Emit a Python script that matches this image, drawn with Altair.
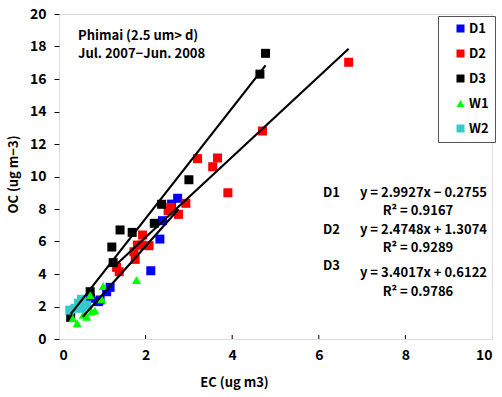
import altair as alt
import pandas as pd

# ---------------- data ----------------
series_names = ["D1", "D2", "D3", "W1", "W2"]
series_colors = ["#0000FF", "#FF0000", "#000000", "#00FF00", "#33CCCC"]
series_shapes = ["square", "square", "square", "triangle-up", "square"]

d1_ec = [0.73, 0.91, 0.95, 1.10, 1.18, 2.12, 2.33, 2.39, 2.60, 2.74]
d1_oc = [2.50, 2.30, 2.40, 2.91, 3.18, 4.20, 6.15, 7.28, 8.30, 8.66]

d2_ec = [1.33, 1.39, 1.76, 1.73, 1.81, 1.91, 2.08, 1.93, 2.52, 2.58, 2.76, 2.93, 3.90, 3.55, 3.20, 3.66, 4.70, 6.69]
d2_oc = [4.41, 4.14, 4.90, 5.37, 5.78, 5.78, 5.74, 6.40, 7.90, 8.10, 7.67, 8.35, 9.00, 10.60, 11.10, 11.14, 12.80, 17.03]

d3_ec = [0.27, 0.72, 1.25, 1.22, 1.41, 1.69, 2.20, 2.37, 3.00, 4.64, 4.77]
d3_oc = [1.33, 2.91, 4.70, 5.66, 6.71, 6.56, 7.12, 8.29, 9.80, 16.30, 17.58]

w1_ec = [0.32, 0.42, 0.56, 0.64, 0.75, 0.83, 0.99, 0.72, 1.02, 1.79]
w1_oc = [1.27, 0.97, 1.48, 1.37, 1.68, 1.74, 2.44, 2.70, 3.26, 3.63]

w2_ec = [0.25, 0.37, 0.45, 0.52, 0.56, 0.64]
w2_oc = [1.78, 1.89, 2.20, 2.44, 1.89, 2.09]

fit_names = ["D1", "D2", "D3"]
fit_slope = [2.9927, 2.4748, 3.4017]
fit_intercept = [-0.2755, 1.3074, 0.6122]
fit_r2 = [0.9167, 0.9289, 0.9786]
fit_x_start = [0.55, 1.33, 0.27]
fit_x_end = [2.76, 6.69, 4.77]

x_ticks = [0, 2, 4, 6, 8, 10]
y_ticks = [0, 2, 4, 6, 8, 10, 12, 14, 16, 18, 20]

title_lines = ["Phimai (2.5 um> d)", "Jul. 2007\u2212Jun. 2008"]

# ---------------- tables ----------------
rows = []
for name, xs, ys in zip(series_names,
                        [d1_ec, d2_ec, d3_ec, w1_ec, w2_ec],
                        [d1_oc, d2_oc, d3_oc, w1_oc, w2_oc]):
    for xv, yv in zip(xs, ys):
        rows.append({"series": name, "EC": xv, "OC": yv})
points = pd.DataFrame(rows)

fit_rows = []
for n, a, b, x0, x1 in zip(fit_names, fit_slope, fit_intercept, fit_x_start, fit_x_end):
    for xv in (x0, x1):
        fit_rows.append({"fit": n, "EC": xv, "OC": a * xv + b})
fits = pd.DataFrame(fit_rows)

def eq_text(a, b):
    sign = "+" if b >= 0 else "\u2212"
    return f"y = {a:.4f}x {sign} {abs(b):.4f}"

FONT = "Noto Sans CJK JP"

# annotation layout (pixel positions inside plot area)
ann_left = pd.DataFrame({
    "text": title_lines + fit_names,
    "px": [19, 19, 264, 264, 264],
    "py": [22, 40, 179, 216, 252],
})
ann_right = pd.DataFrame({
    "text": [eq_text(a, b) for a, b in zip(fit_slope, fit_intercept)],
    "px": [428, 428, 428],
    "py": [179, 216, 259],
})
ann_center = pd.DataFrame({
    "text": [f"R\u00b2 = {r:.4f}" for r in fit_r2],
    "px": [359, 359, 359],
    "py": [197, 234, 278],
})

xscale = alt.Scale(domain=[0, 10], nice=False)
yscale = alt.Scale(domain=[0, 20], nice=False)

legend = alt.Legend(
    title=None, orient="none", legendX=379, legendY=2,
    direction="vertical", padding=6, rowPadding=11,
    strokeColor="#555555", fillColor="white",
    labelFont=FONT, labelFontSize=13, labelFontWeight="bold", labelColor="black",
    symbolSize=64, symbolOffset=10, labelOffset=2, symbolStrokeWidth=0,
)

axis_common = dict(
    labelFont=FONT, labelFontSize=14, labelFontWeight="bold", labelColor="black",
    titleFont=FONT, titleFontSize=13, titleFontWeight="bold", titleColor="black",
    tickColor="black", domain=False, grid=False, labelOverlap=False,
)
x_axis = alt.Axis(values=x_ticks, title="EC (ug m3)", titleX=175, titleY=43,
                  titleBaseline="middle", tickSize=0, labelPadding=9, **axis_common)
y_axis = alt.Axis(values=y_ticks, tickCount=11, title="OC (ug m\u22123)", titleX=-46, titleY=160,
                  titleBaseline="middle", tickSize=5, labelPadding=8, **axis_common)

X = alt.X("EC:Q", scale=xscale, axis=x_axis)
Y = alt.Y("OC:Q", scale=yscale, axis=y_axis)

pts = alt.Chart(points).mark_point(filled=True, opacity=1, size=81).encode(
    x=X, y=Y,
    color=alt.Color("series:N", scale=alt.Scale(domain=series_names, range=series_colors), legend=legend),
    shape=alt.Shape("series:N", scale=alt.Scale(domain=series_names, range=series_shapes), legend=legend),
)

xtick_df = pd.DataFrame({"EC": x_ticks[1:-1]})
xticks = alt.Chart(xtick_df).mark_rule(color="black", strokeWidth=1).encode(
    x=X, y=alt.value(325), y2=alt.value(321)
)

lines = alt.Chart(fits).mark_line(color="black", strokeWidth=2.2).encode(
    x=X, y=Y, detail="fit:N"
)

def txt(df, align):
    return alt.Chart(df).mark_text(
        align=align, baseline="middle", font=FONT, fontSize=13, fontWeight="bold", color="black"
    ).encode(x=alt.X("px:Q", scale=None), y=alt.Y("py:Q", scale=None), text="text:N")

chart = alt.layer(
    pts, lines, xticks, txt(ann_left, "left"), txt(ann_right, "right"), txt(ann_center, "center")
).properties(
    width=433, height=325,
    autosize=alt.AutoSizeParams(type="none"),
    padding={"left": 59, "top": 14, "right": 10, "bottom": 58},
).configure_view(
    stroke="black", strokeWidth=1.3
).configure(background="white")

chart.save("out.html", embed_options={"renderer": "svg", "actions": False})
